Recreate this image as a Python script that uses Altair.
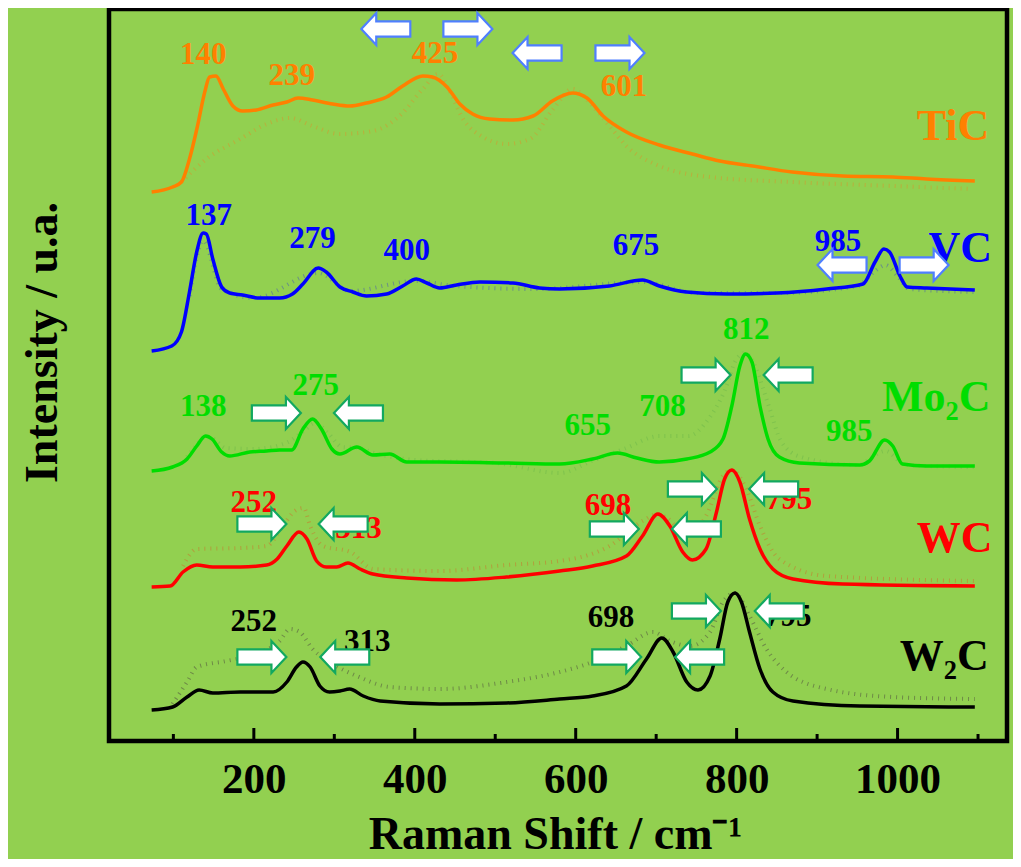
import altair as alt
import pandas as pd

BG = "#92D050"
FONT = "Liberation Serif"

# ---------------- spectra (wavenumber / intensity) ----------------
tic_x = [73, 99, 110, 120, 130, 139, 145, 153, 162, 174, 186, 203, 224, 241, 255, 273, 298, 319, 340, 365, 385, 410, 422, 440, 456, 472, 493, 522, 547, 571, 596, 614, 634, 663, 704, 745, 779, 820, 869, 932, 994, 1036, 1096]
tic_y = [549, 554, 559, 582, 615, 649, 664, 665, 652, 635, 630, 631, 636, 639, 643, 641, 637, 635, 638, 644, 655, 665, 664, 654, 637, 627, 622, 621, 625, 640, 648, 643, 625, 609, 596, 587, 580, 575, 569, 565, 564, 562, 560]
tic_dx = [110, 141, 183, 216, 245, 273, 307, 348, 381, 410, 429, 444, 460, 485, 514, 543, 572, 596, 621, 642, 663, 704, 767, 869, 994, 1093]
tic_dy = [559, 582, 602, 617, 623, 615, 607, 610, 625, 652, 667, 649, 622, 604, 597, 602, 632, 652, 635, 615, 595, 575, 564, 559, 555, 552]

vc_x = [73, 98, 110, 120, 129, 137, 141, 149, 160, 170, 186, 207, 232, 248, 261, 280, 290, 307, 323, 340, 365, 385, 402, 415, 431, 452, 481, 522, 555, 580, 642, 683, 704, 738, 788, 850, 912, 957, 972, 983, 990, 1003, 1012, 1036, 1096]
vc_y = [390, 395, 409, 449, 489, 508, 507, 482, 454, 448, 446, 443, 443, 447, 457, 473, 469, 454, 449, 445, 447, 455, 462, 458, 453, 456, 459, 458, 453, 452, 455, 461, 455, 449, 447, 448, 452, 457, 479, 492, 489, 465, 454, 453, 451]
vc_dx = [120, 137, 160, 200, 280, 320, 400, 450, 550, 683, 750, 850, 950, 972, 985, 1000, 1015, 1096]
vc_dy = [445, 500, 452, 443, 468, 450, 460, 455, 452, 459, 448, 448, 455, 470, 476, 465, 452, 449]

mo_x = [73, 99, 117, 129, 140, 148, 160, 170, 195, 216, 232, 247, 261, 273, 284, 297, 307, 328, 348, 369, 390, 431, 514, 580, 621, 652, 676, 704, 738, 767, 783, 794, 804, 811, 819, 829, 839, 853, 878, 953, 965, 984, 994, 1006, 1036, 1096]
mo_y = [270, 274, 282, 295, 305, 302, 289, 285, 289, 290, 291, 291, 312, 322, 312, 292, 287, 294, 286, 287, 279, 279, 278, 277, 282, 288, 283, 279, 282, 289, 302, 335, 375, 387, 379, 335, 302, 284, 278, 276, 280, 301, 295, 277, 275, 275]
mo_dx = [117, 129, 140, 150, 165, 200, 240, 262, 276, 292, 310, 330, 350, 400, 500, 580, 620, 660, 704, 740, 765, 785, 800, 811, 822, 840, 855, 880, 950, 985, 1010, 1096]
mo_dy = [284, 296, 304, 302, 293, 292, 298, 310, 318, 308, 294, 293, 288, 281, 278, 268, 280, 292, 305, 305, 322, 350, 382, 388, 376, 335, 300, 284, 276, 290, 276, 274]

wc_x = [73, 96, 112, 129, 149, 183, 216, 229, 241, 256, 266, 278, 290, 303, 317, 332, 348, 390, 452, 514, 580, 621, 663, 683, 702, 717, 733, 745, 762, 775, 785, 794, 804, 816, 829, 845, 870, 932, 1096]
wc_y = [154, 155, 169, 176, 174, 174, 176, 182, 195, 209, 202, 180, 174, 174, 178, 172, 167, 163, 161, 164, 170, 175, 185, 205, 227, 215, 189, 181, 192, 229, 262, 271, 259, 222, 192, 172, 162, 157, 155]
wc_dx = [112, 129, 183, 216, 236, 251, 262, 270, 286, 320, 348, 431, 514, 580, 642, 683, 702, 715, 738, 762, 783, 794, 812, 829, 853, 912, 1096]
wc_dy = [175, 192, 193, 195, 215, 230, 233, 215, 195, 189, 172, 170, 176, 180, 195, 220, 227, 222, 205, 225, 265, 271, 252, 215, 182, 165, 160]

w2c_x = [73, 99, 117, 132, 149, 183, 224, 241, 253, 261, 270, 282, 294, 307, 319, 336, 357, 431, 514, 580, 621, 663, 688, 707, 721, 738, 752, 767, 779, 789, 798, 806, 816, 829, 845, 870, 953, 1096]
w2c_y = [31, 34, 44, 51, 48, 49, 49, 59, 74, 79, 74, 55, 49, 50, 52, 45, 40, 37, 38, 42, 45, 55, 82, 103, 89, 59, 51, 65, 102, 139, 148, 139, 109, 72, 49, 40, 35, 34]
w2c_dx = [99, 117, 129, 166, 203, 232, 245, 257, 273, 298, 328, 369, 431, 514, 580, 621, 663, 696, 717, 742, 767, 783, 798, 816, 837, 862, 912, 994, 1096]
w2c_dy = [37, 59, 74, 80, 87, 100, 112, 109, 92, 77, 65, 54, 52, 59, 69, 79, 95, 109, 100, 95, 109, 139, 148, 125, 92, 69, 52, 44, 42]

series_names = ["TiC", "VC", "Mo2C", "WC", "W2C"]
line_colors = ["#FF8000", "#0000FF", "#00DD00", "#FF0000", "#000000"]
dot_colors = ["#D8962E", "#4A5FB0", "#6FB84A", "#C8782E", "#505040"]
solid = [(tic_x, tic_y), (vc_x, vc_y), (mo_x, mo_y), (wc_x, wc_y), (w2c_x, w2c_y)]
dotted = [(tic_dx, tic_dy), (vc_dx, vc_dy), (mo_dx, mo_dy), (wc_dx, wc_dy), (w2c_dx, w2c_dy)]

# ---------------- peak labels ----------------
peak_text = ["140", "239", "425", "601",
             "137", "279", "400", "675", "985",
             "138", "275", "812", "655", "708", "985",
             "252", "313", "698", "795",
             "252", "313", "698", "795"]
peak_x = [137, 247, 425, 660,
          144, 273, 390, 675, 926,
          137, 277, 812, 615, 708, 940,
          200, 330, 640, 865,
          200, 341, 644, 864]
peak_y = [686, 665, 687, 654,
          525, 502, 490, 495, 499,
          334, 355, 411, 315, 334, 309,
          238, 212, 235, 241,
          119, 99, 123, 124]
peak_color = ["#FF8000"] * 4 + ["#0000FF"] * 5 + ["#00DD00"] * 6 + ["#FF0000"] * 4 + ["#000000"] * 4

name_text = ["TiC", "VC", "Mo\u2082C", "WC", "W\u2082C"]
name_x = [1069, 1078, 1048, 1071, 1058]
name_y = [614, 492, 343, 202, 84]

# ---------------- arrows ----------------
arrow_x = [364, 466, 552, 655,
           931, 1033,
           228, 330, 762, 864,
           210, 311, 745, 846, 648, 750,
           210, 313, 651, 754, 750, 853]
arrow_y = [712, 712, 688, 688,
           476, 476,
           328, 328, 366, 366,
           217, 217, 252, 252, 212, 212,
           84, 84, 84, 84, 130, 130]
arrow_dir = ["L", "R", "L", "R",
             "L", "R",
             "R", "L", "R", "L",
             "R", "L", "R", "L", "R", "L",
             "R", "L", "R", "L", "R", "L"]
arrow_edge = ["#4F7FFF"] * 6 + ["#12A860"] * 16

major_ticks = [200, 400, 600, 800, 1000]
minor_ticks = [100, 300, 500, 700, 900, 1100]

# ---------------- tables ----------------
rows = []
for name, col, (xs_, ys_) in zip(series_names, line_colors, solid):
    for a, b in zip(xs_, ys_):
        rows.append({"series": name, "x": a, "y": b, "c": col})
df_solid = pd.DataFrame(rows)
rows = []
for name, col, (xs_, ys_) in zip(series_names, dot_colors, dotted):
    for a, b in zip(xs_, ys_):
        rows.append({"series": name + "_fit", "x": a, "y": b, "c": col})
df_dot = pd.DataFrame(rows)

df_peaks = pd.DataFrame({"t": peak_text, "x": peak_x, "y": peak_y, "c": peak_color})
df_names = pd.DataFrame({"t": name_text, "x": name_x, "y": name_y, "c": line_colors})
df_arrows = pd.DataFrame({"x": arrow_x, "y": arrow_y, "d": arrow_dir, "e": arrow_edge})
df_major = pd.DataFrame({"x": major_ticks})
df_minor = pd.DataFrame({"x": minor_ticks})

xscale = alt.Scale(domain=[20, 1136], nice=False, zero=False)
yscale = alt.Scale(domain=[0, 732], nice=False, zero=False)
xaxis = alt.Axis(values=major_ticks, format="d", title="Raman Shift / cm\u207b\u00b9",
                 labelFont=FONT, labelFontSize=43, labelFontWeight="bold", labelColor="black",
                 labelPadding=51, labelBaseline="alphabetic", labelFlush=False,
                 ticks=False, tickSize=0, domain=False, grid=False,
                 titleFont=FONT, titleFontSize=46, titleFontWeight="bold", titleColor="black",
                 titleX=446, titleY=107, titleBaseline="alphabetic")
yaxis = alt.Axis(title="Intensity / u.a.", labels=False, ticks=False, tickSize=0, domain=False, grid=False,
                 titleFont=FONT, titleFontSize=46, titleFontWeight="bold", titleColor="black",
                 titleX=-67, titleY=333, titleAlign="center", titleBaseline="middle", titleAngle=270)

X = alt.X("x:Q", scale=xscale, axis=xaxis)
Y = alt.Y("y:Q", scale=yscale, axis=yaxis)

dot_layer = alt.Chart(df_dot).mark_line(strokeWidth=4, strokeDash=[1, 5], opacity=0.55,
                                        interpolate="monotone").encode(
    x=X, y=Y, color=alt.Color("c:N", scale=None), detail="series:N")
line_layer = alt.Chart(df_solid).mark_line(strokeWidth=3.5, interpolate="monotone").encode(
    x=X, y=Y, color=alt.Color("c:N", scale=None), detail="series:N")

peak_layer = alt.Chart(df_peaks).mark_text(font=FONT, fontWeight="bold", fontSize=31,
                                          baseline="middle", align="center").encode(
    x=X, y=Y, text="t:N", color=alt.Color("c:N", scale=None))
name_layer = alt.Chart(df_names).mark_text(font=FONT, fontWeight="bold", fontSize=44,
                                          baseline="middle", align="center").encode(
    x=X, y=Y, text="t:N", color=alt.Color("c:N", scale=None))

RIGHT = "M -1 -0.31 L 0.39 -0.31 L 0.39 -0.65 L 1 0 L 0.39 0.65 L 0.39 0.31 L -1 0.31 Z"
LEFT = "M 1 -0.31 L -0.39 -0.31 L -0.39 -0.65 L -1 0 L -0.39 0.65 L -0.39 0.31 L 1 0.31 Z"
arrow_layers = []
for d, path in [("R", RIGHT), ("L", LEFT)]:
    arrow_layers.append(
        alt.Chart(df_arrows).transform_filter(alt.datum.d == d).mark_point(
            shape=path, size=2401, filled=True, fill="white", fillOpacity=1, opacity=1,
            strokeWidth=2.2, strokeOpacity=1).encode(
            x=X, y=Y, stroke=alt.Stroke("e:N", scale=None)))

major_layer = alt.Chart(df_major).mark_rule(color="black", strokeWidth=3).encode(
    x=X, y=alt.value(732), y2=alt.value(719))
minor_layer = alt.Chart(df_minor).mark_rule(color="black", strokeWidth=3).encode(
    x=X, y=alt.value(732), y2=alt.value(725))

chart = alt.layer(
    dot_layer, line_layer, peak_layer, name_layer, *arrow_layers, major_layer, minor_layer
).properties(
    width=898, height=732,
    padding={"left": 101, "top": 1, "right": 6, "bottom": 118},
    autosize=alt.AutoSizeParams(type="none"),
    background=BG,
).configure_view(
    stroke="black", strokeWidth=4.5
)

chart.save("out.html", embed_options={"renderer": "svg", "actions": False})
